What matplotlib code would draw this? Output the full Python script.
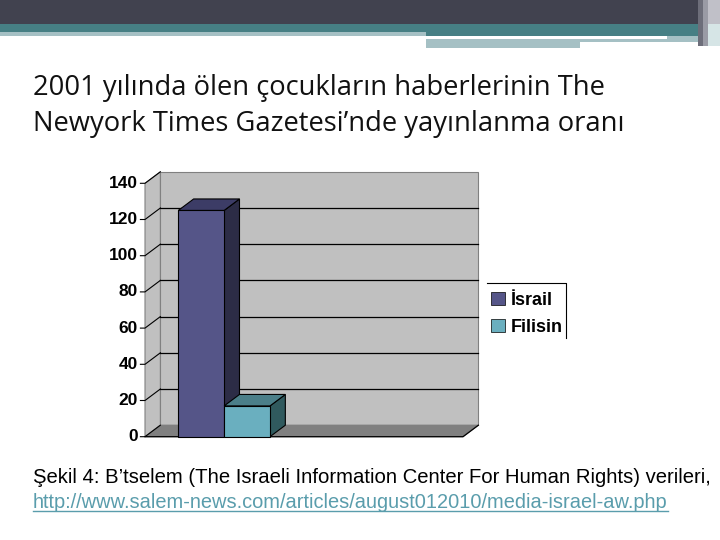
import matplotlib
matplotlib.use("Agg")
import matplotlib.pyplot as plt
from matplotlib.patches import Polygon, Rectangle, Patch
from matplotlib.lines import Line2D

# data
categories = ["İsrail", "Filisin"]
values = [125, 17]
y_ticks = [0, 20, 40, 60, 80, 100, 120, 140]

front_colors = ["#555588", "#6aafbf"]
top_colors = ["#3c3c66", "#4b7f89"]
side_colors = ["#2c2c46", "#305a5e"]

title_lines = ["2001 yılında ölen çocukların haberlerinin The",
               "Newyork Times Gazetesi’nde yayınlanma oranı"]
caption = "Şekil 4: B’tselem (The Israeli Information Center For Human Rights) verileri,"
link = "http://www.salem-news.com/articles/august012010/media-israel-aw.php"

fig = plt.figure(figsize=(7.2, 5.4), dpi=100)

# slide background decorations (pixel coordinates)
bg = fig.add_axes([0, 0, 1, 1], zorder=-10)
bg.set_xlim(0, 720)
bg.set_ylim(540, 0)
bg.axis("off")
bg.add_patch(Rectangle((0, 0), 720, 24, color="#41424f", lw=0))
bg.add_patch(Rectangle((0, 24), 720, 8, color="#467f84", lw=0))
bg.add_patch(Rectangle((0, 32), 426, 4, color="#a5c0c4", lw=0))
bg.add_patch(Rectangle((426, 32), 272, 4, color="#467f84", lw=0))
bg.add_patch(Rectangle((426, 39), 272, 3, color="#a5c0c4", lw=0))
bg.add_patch(Rectangle((426, 42), 154, 6, color="#a5c0c4", lw=0))
bg.add_patch(Rectangle((667, 36), 31, 6, color="#a5c0c4", lw=0))
bg.add_patch(Rectangle((698, 0), 5, 46, color="#6d6e7a", lw=0))
bg.add_patch(Rectangle((703, 0), 5, 46, color="#9a9ba5", lw=0))
bg.add_patch(Rectangle((708, 0), 12, 24, color="#c0c0c8", lw=0))
bg.add_patch(Rectangle((708, 24), 12, 22, color="#d6e5e6", lw=0))

# chart axes = front plane of the 3d chart
ax = fig.add_axes([145 / 720, 1 - 436.7 / 540, 318 / 720, 253.4 / 540])
xl, xr = -1.226, 5.71
ax.set_xlim(xl, xr)
ax.set_ylim(0, 140)
ax.axis("off")

dx, dy = 0.335, 6.35
ymax = y_ticks[-1]

# walls and floor
ax.add_patch(Rectangle((xl + dx, dy), xr - xl, ymax, facecolor="#c0c0c0",
                       edgecolor="#808080", lw=0.8, clip_on=False, zorder=0))
ax.add_patch(Polygon([(xl, 0), (xl + dx, dy), (xl + dx, ymax + dy), (xl, ymax)],
                     facecolor="#c0c0c0", edgecolor="#808080", lw=0.8,
                     clip_on=False, zorder=0))
ax.add_patch(Polygon([(xl, 0), (xr, 0), (xr + dx, dy), (xl + dx, dy)],
                     facecolor="#808080", edgecolor="#808080", lw=0.8,
                     clip_on=False, zorder=1))

# gridlines
for v in y_ticks[1:-1]:
    ax.plot([xl + dx, xr + dx], [v + dy, v + dy], color="black", lw=0.9,
            clip_on=False, zorder=1)
for v in y_ticks:
    ax.plot([xl - 0.1, xl, xl + dx], [v, v, v + dy], color="black", lw=0.8,
            clip_on=False, zorder=1)
    ax.text(xl - 0.15, v, str(v), ha="right", va="center", fontsize=12.5,
            fontweight="bold", family="Liberation Sans")
ax.plot([xl, xr, xr + dx], [0, 0, dy], color="black", lw=0.9,
        clip_on=False, zorder=2)

# bars
for i, (v, fc, tc, sc) in enumerate(zip(values, front_colors, top_colors, side_colors)):
    z = 3 + i * 3
    ax.add_patch(Polygon([(i + 0.5, 0), (i + 0.5 + dx, dy), (i + 0.5 + dx, v + dy), (i + 0.5, v)],
                         facecolor=sc, edgecolor="black", lw=0.8, clip_on=False, zorder=z))
    ax.add_patch(Polygon([(i - 0.5, v), (i + 0.5, v), (i + 0.5 + dx, v + dy), (i - 0.5 + dx, v + dy)],
                         facecolor=tc, edgecolor="black", lw=0.8, clip_on=False, zorder=z + 1))
    ax.bar(i, v, width=1, color=fc, edgecolor="black", lw=0.8, zorder=z + 2, clip_on=False)

# legend
handles = [Patch(facecolor=c, edgecolor="black", lw=0.5) for c in front_colors]
ax.legend(handles, categories, loc="upper left", bbox_to_anchor=(491 / 720, 1 - 292 / 540),
          bbox_transform=fig.transFigure, frameon=False, handlelength=0.75, handleheight=0.75,
          handletextpad=0.35, labelspacing=0.55, borderpad=0, borderaxespad=0,
          prop={"family": "Liberation Sans", "weight": "bold", "size": 13})
bg.plot([487, 566, 566], [283, 283, 338], color="black", lw=0.8)

# title and caption
for k, line in enumerate(title_lines):
    fig.text(33 / 720, 1 - (95 + 36 * k) / 540, line, ha="left", va="baseline",
             fontsize=19.7, family="Open Sans", color="#111111")
fig.text(33 / 720, 1 - 483 / 540, caption, ha="left", va="baseline", fontsize=14.6,
         family="Liberation Sans", color="black")
t = fig.text(33 / 720, 1 - 508 / 540, link, ha="left", va="baseline", fontsize=14.4,
             family="Liberation Sans", color="#5a9dac")
fig.canvas.draw()
bb = t.get_window_extent()
uy = 1 - 511 / 540
fig.add_artist(Line2D([bb.x0 / 720, bb.x1 / 720], [uy, uy], color="#5a9dac", lw=1))

fig.savefig("out.png", dpi=100)
